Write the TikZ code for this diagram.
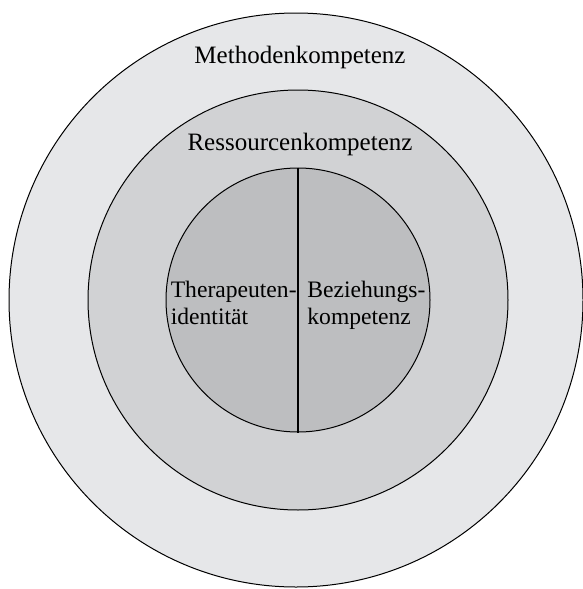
\documentclass[tikz,border=0pt]{standalone}
\usepackage{fontspec}
\setmainfont{Liberation Serif}
\usepackage{tikz}
\usetikzlibrary{positioning}
\definecolor{ringout}{HTML}{E6E7E9}
\definecolor{ringmid}{HTML}{D1D2D4}
\definecolor{ringin}{HTML}{BDBEC0}

\begin{document}
\begin{tikzpicture}[
			font=\fontsize{12.5}{13.5}\selectfont,
			ring/.style={
				circle,
				draw=black,
				line width=0.5pt,
				inner sep=0pt
			},
			caption/.style={
				inner sep=0pt,
				anchor=base
			},
			half/.style={
				inner sep=0pt,
				yshift=-3pt,
				font=\fontsize{11.8}{13.5}\selectfont
			}
			]
			\useasboundingbox (0,0) rectangle (291.5pt,-294.5pt);
			% We start by placing the rings
			
			\node [ring, fill=ringout, minimum size=287pt] (outer) at (148pt,-150pt) {};
			\node [ring, fill=ringmid, minimum size=210pt] (middle) at (149pt,-150pt) {};
			\node [ring, fill=ringin, minimum size=132pt] (inner) at (149pt,-150pt) {};
			
			\draw [line width=0.6pt] (inner.north) -- (inner.south);
			
			% then the texts
			\node [caption] (methode) at (150pt,-31.5pt) {Methodenkompetenz};
			\node [caption] (ressource) at (150pt,-75pt) {Ressourcenkompetenz};
			
			\node [half, anchor=east, xshift=-0.5pt] (therapeut) at (inner.center)
			{%
				\begin{tabular}{@{}l@{}}
				Therapeuten-\\
				identität
				\end{tabular}
			};
			
			\node [half, anchor=west, xshift=4.5pt] (beziehung) at (inner.center)
			{%
				\begin{tabular}{@{}l@{}}
				Beziehungs-\\
				kompetenz
				\end{tabular}
			};
			
			\end{tikzpicture}
\end{document}
